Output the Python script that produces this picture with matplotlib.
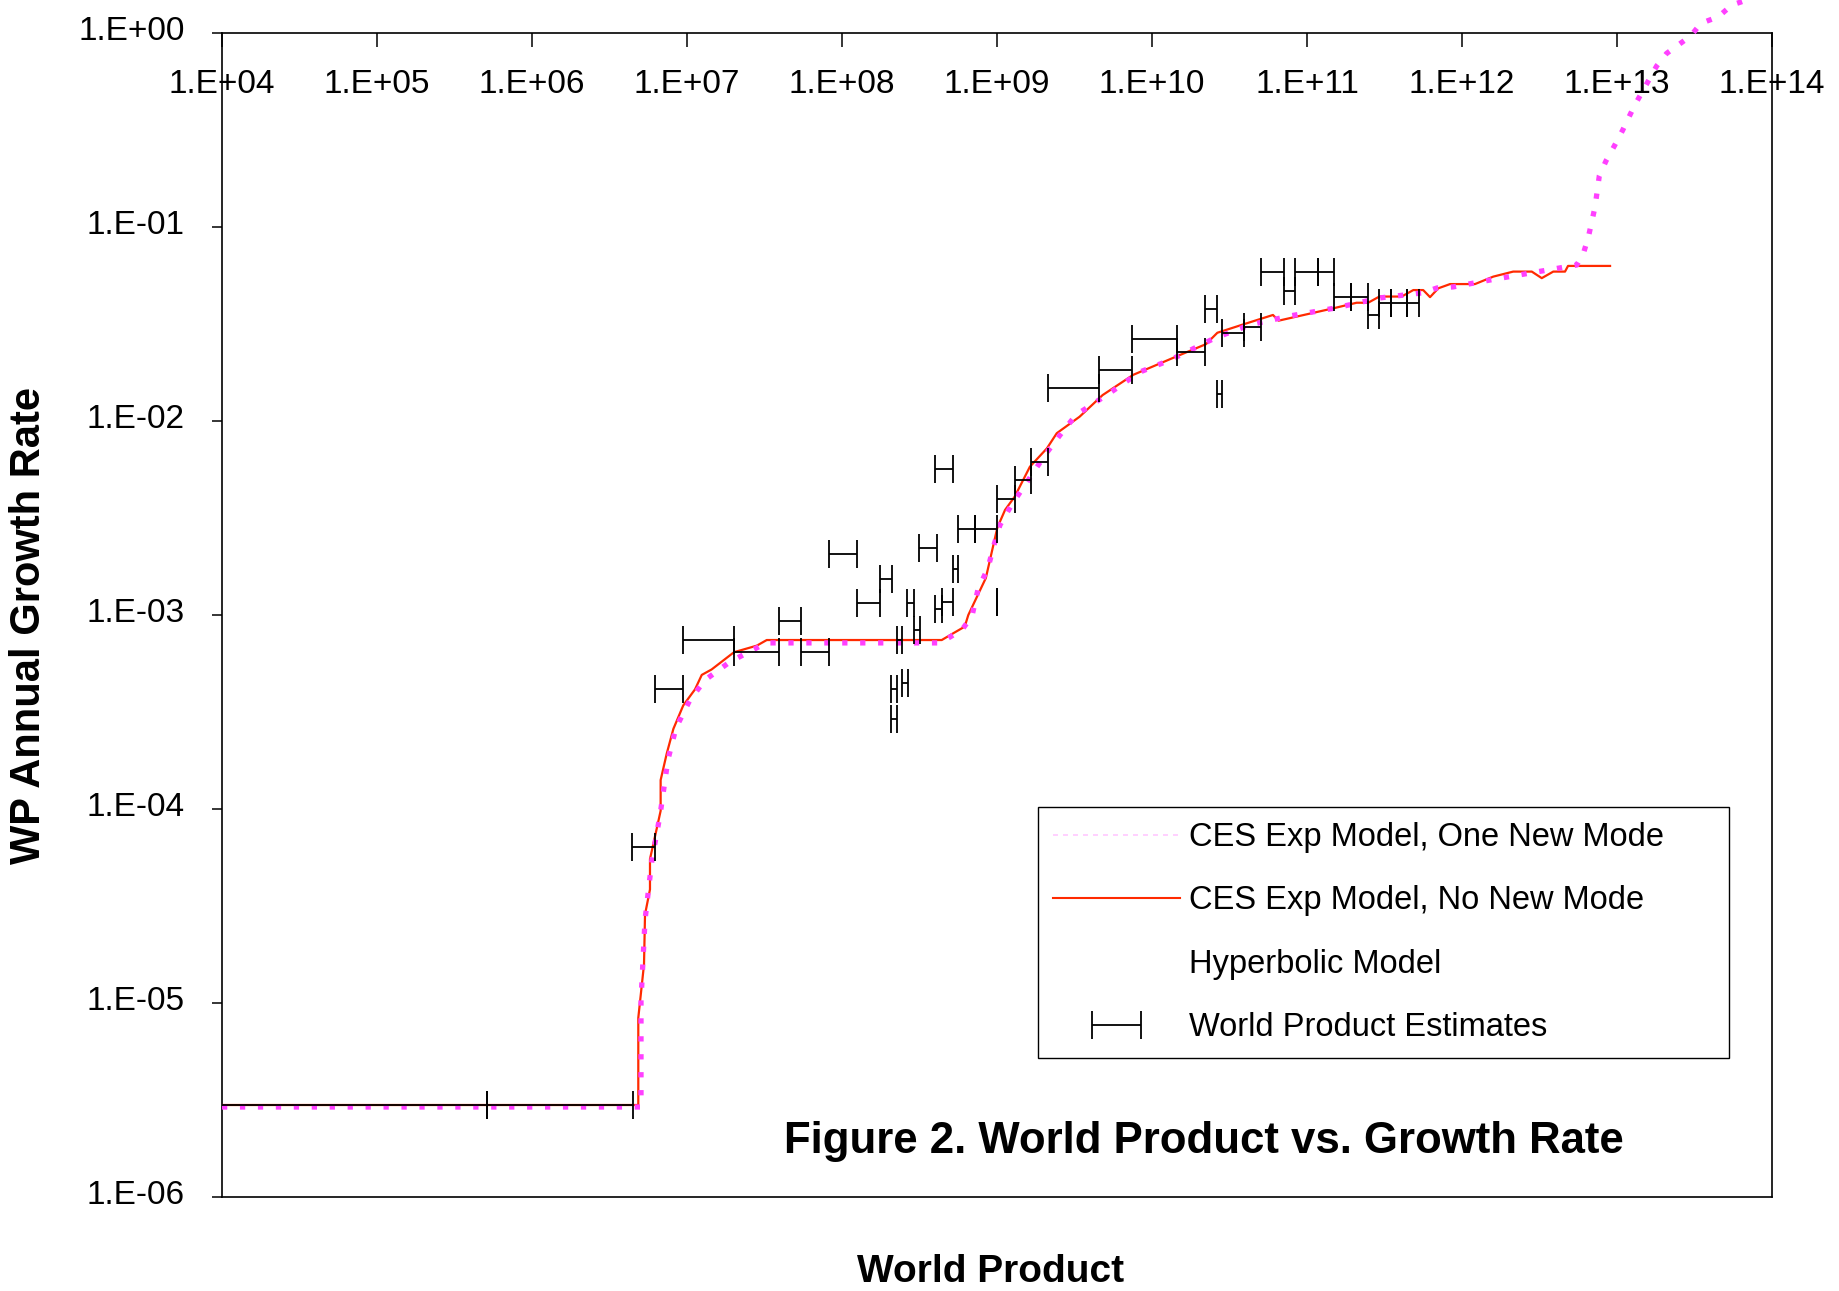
import matplotlib
matplotlib.use('Agg')
import numpy as np
import matplotlib.pyplot as plt
from matplotlib import font_manager
from matplotlib.lines import Line2D
from matplotlib.container import ErrorbarContainer
from matplotlib.legend_handler import HandlerErrorbar
from matplotlib.ticker import NullLocator
from matplotlib.transforms import ScaledTranslation

# CES Exp Model, No New Mode (red)
ces_none_x = [1.0e4, 4.85e6, 4.85e6, 5.28e6, 5.36e6, 5.77e6, 5.77e6, 6.38e6, 6.76e6, 6.76e6,
              7.40e6, 8.17e6, 9.46e6, 1.127e7, 1.245e7, 1.442e7, 2.01e7, 2.82e7, 3.27e7, 4.40e8,
              5.22e8, 6.19e8, 6.53e8, 8.47e8, 8.91e8, 1.005e9, 1.127e9, 1.30e9, 1.63e9, 2.10e9,
              2.43e9, 3.41e9, 4.80e9, 7.57e9, 1.455e10, 2.23e10, 2.64e10, 3.94e10, 6.03e10, 6.56e10,
              1.479e11, 2.09e11, 2.48e11, 2.93e11, 4.08e11, 4.85e11, 5.62e11, 6.22e11, 7.03e11, 8.38e11,
              1.213e12, 1.592e12, 2.14e12, 2.82e12, 3.27e12, 3.88e12, 4.62e12, 4.83e12, 9.02e12]
ces_none_y = [2.98e-6, 2.98e-6, 8.38e-6, 1.58e-5, 2.86e-5, 3.85e-5, 5.52e-5, 7.93e-5, 9.79e-5, 1.41e-4,
              1.93e-4, 2.59e-4, 3.42e-4, 4.14e-4, 4.91e-4, 5.24e-4, 6.43e-4, 6.95e-4, 7.43e-4, 7.43e-4,
              8.05e-4, 8.71e-4, 1.0e-3, 1.55e-3, 1.85e-3, 2.82e-3, 3.48e-3, 4.07e-3, 5.81e-3, 7.23e-3,
              8.65e-3, 1.052e-2, 1.36e-2, 1.73e-2, 2.16e-2, 2.49e-2, 2.85e-2, 3.16e-2, 3.52e-2, 3.29e-2,
              3.81e-2, 4.07e-2, 4.07e-2, 4.38e-2, 4.38e-2, 4.73e-2, 4.73e-2, 4.35e-2, 4.83e-2, 5.08e-2,
              5.08e-2, 5.55e-2, 5.89e-2, 5.89e-2, 5.45e-2, 5.89e-2, 5.89e-2, 6.30e-2, 6.30e-2]

# CES Exp Model, One New Mode (magenta)
ces_one_x = [1.0e4, 5.05e6, 5.05e6, 5.36e6, 5.94e6, 6.70e6, 7.53e6, 8.49e6, 1.045e7, 1.306e7,
             1.89e7, 3.24e7, 4.29e8, 5.94e8, 6.90e8, 7.53e8, 8.75e8, 9.57e8, 1.045e9, 1.25e9,
             1.517e9, 2.04e9, 2.55e9, 3.23e9, 5.33e9, 8.37e9, 1.306e10, 1.89e10, 2.55e10, 4.29e10,
             7.76e10, 1.517e11, 2.96e11, 5.60e11, 6.90e11, 8.75e11, 1.517e12, 2.75e12, 5.50e12, 6.07e12,
             6.53e12, 7.21e12, 7.69e12, 8.49e12, 9.62e12, 1.089e13, 1.183e13, 1.294e13, 1.517e13, 1.803e13,
             2.09e13, 2.99e13, 3.48e13, 4.51e13, 5.50e13, 6.87e13]
ces_one_y = [2.91e-6, 2.91e-6, 1.035e-5, 2.68e-5, 5.46e-5, 9.31e-5, 1.79e-4, 2.62e-4, 3.65e-4, 4.62e-4,
             5.73e-4, 7.18e-4, 7.18e-4, 8.38e-4, 9.89e-4, 1.35e-3, 1.75e-3, 2.30e-3, 2.91e-3, 3.73e-3,
             4.68e-3, 6.68e-3, 8.47e-3, 1.074e-2, 1.393e-2, 1.79e-2, 2.06e-2, 2.38e-2, 2.68e-2, 3.13e-2,
             3.48e-2, 3.82e-2, 4.31e-2, 4.58e-2, 4.85e-2, 4.91e-2, 5.33e-2, 5.79e-2, 6.37e-2, 7.31e-2,
             8.85e-2, 0.1265, 0.1837, 0.219, 0.262, 0.316, 0.363, 0.421, 0.528, 0.676,
             0.785, 0.966, 1.122, 1.213, 1.393, 1.479]

# World product estimates: low / high world product and growth rate
wp_low = [5.0e3, 5.1e5, 4.42e6, 6.22e6, 9.46e6, 2.01e7, 3.93e7, 5.43e7, 8.24e7, 1.256e8,
          1.758e8, 2.06e8, 2.06e8, 2.25e8, 2.45e8, 2.64e8, 2.92e8, 3.14e8, 3.98e8, 3.98e8,
          4.40e8, 5.18e8, 5.62e8, 7.22e8, 1.0e9, 1.0e9, 1.30e9, 1.656e9, 2.13e9, 4.54e9,
          7.47e9, 1.455e10, 2.20e10, 2.61e10, 2.83e10, 3.94e10, 5.08e10, 7.14e10, 8.38e10, 1.172e11,
          1.496e11, 1.93e11, 2.466e11, 2.93e11, 3.48e11, 4.41e11]
wp_high = [5.1e5, 4.47e6, 6.22e6, 9.46e6, 2.01e7, 3.93e7, 5.43e7, 8.24e7, 1.256e8, 1.758e8,
           2.094e8, 2.25e8, 2.25e8, 2.45e8, 2.68e8, 2.92e8, 3.19e8, 4.08e8, 5.22e8, 4.40e8,
           5.18e8, 5.62e8, 7.22e8, 1.004e9, 1.0e9, 1.30e9, 1.656e9, 2.13e9, 4.54e9, 7.47e9,
           1.455e10, 2.20e10, 2.61e10, 2.83e10, 3.94e10, 5.08e10, 7.14e10, 8.38e10, 1.172e11, 1.496e11,
           1.93e11, 2.466e11, 2.93e11, 3.48e11, 4.41e11, 5.29e11]
wp_rate = [2.98e-6, 2.98e-6, 6.37e-5, 4.16e-4, 7.46e-4, 6.42e-4, 9.28e-4, 6.42e-4, 2.07e-3, 1.15e-3,
           1.54e-3, 4.16e-4, 2.91e-4, 7.43e-4, 4.48e-4, 1.15e-3, 8.37e-4, 2.21e-3, 5.66e-3, 1.08e-3,
           1.16e-3, 1.73e-3, 2.76e-3, 2.76e-3, 1.16e-3, 3.97e-3, 4.97e-3, 6.15e-3, 1.475e-2, 1.83e-2,
           2.64e-2, 2.28e-2, 3.77e-2, 1.38e-2, 2.83e-2, 3.04e-2, 5.86e-2, 4.70e-2, 5.86e-2, 5.86e-2,
           4.37e-2, 4.37e-2, 3.52e-2, 4.08e-2, 4.08e-2, 4.08e-2]

x_ticks = [1e4, 1e5, 1e6, 1e7, 1e8, 1e9, 1e10, 1e11, 1e12, 1e13, 1e14]
x_tick_labels = ['1.E+04', '1.E+05', '1.E+06', '1.E+07', '1.E+08', '1.E+09',
                 '1.E+10', '1.E+11', '1.E+12', '1.E+13', '1.E+14']
y_ticks = [1e-6, 1e-5, 1e-4, 1e-3, 1e-2, 1e-1, 1e0]
y_tick_labels = ['1.E-06', '1.E-05', '1.E-04', '1.E-03', '1.E-02', '1.E-01', '1.E+00']

legend_labels = ['CES Exp Model, One New Mode', 'CES Exp Model, No New Mode',
                 'Hyperbolic Model', 'World Product Estimates']

# narrow font if there is one (the original text is tall and condensed)
names = {f.name for f in font_manager.fontManager.ttflist}
if 'Liberation Sans Narrow' in names:
    main_font = 'Liberation Sans Narrow'
    tick_size, leg_size, title_size, xlab_size = 29, 28.5, 38, 34
else:
    main_font = 'Liberation Sans'
    tick_size, leg_size, title_size, xlab_size = 24, 23.5, 31.5, 28
plt.rcParams['font.family'] = [main_font, 'DejaVu Sans']

fig = plt.figure(figsize=(18.39, 12.91), dpi=100)
fig.patch.set_facecolor('white')
ax = fig.add_axes([222 / 1839, 94 / 1291, 1550 / 1839, 1164 / 1291])

ax.plot(ces_none_x, ces_none_y, color='#FF2A00', lw=1.6, zorder=3)
ax.plot(ces_one_x, ces_one_y, color='#FF40FF', lw=3.8, ls=(0, (1, 2.4)),
        dash_capstyle='butt', zorder=4, clip_on=False)

low = np.array(wp_low)
high = np.array(wp_high)
eb = ax.errorbar(low, wp_rate, xerr=[np.zeros_like(low), high - low], fmt='none',
                 ecolor='black', elinewidth=1.3, capsize=10, capthick=1.3, zorder=5)

ax.set_xscale('log')
ax.set_yscale('log')
ax.set_xlim(1e4, 1e14)
ax.set_ylim(1e-6, 1e0)
ax.set_xticks(x_ticks, labels=x_tick_labels)
ax.set_yticks(y_ticks, labels=y_tick_labels)
ax.xaxis.set_minor_locator(NullLocator())
ax.yaxis.set_minor_locator(NullLocator())

ax.xaxis.set_ticks_position('top')
ax.tick_params(axis='x', which='major', direction='in', length=10, width=1.1,
               top=True, bottom=False, labeltop=True, labelbottom=False,
               pad=-48.5, labelsize=tick_size)
ax.tick_params(axis='y', which='major', direction='out', length=7, width=1.1,
               left=True, right=False, pad=20, labelsize=tick_size)
# y labels sit a little above their ticks in the original
for lab in ax.get_yticklabels():
    lab.set_transform(lab.get_transform() + ScaledTranslation(0, 3.4 / 72, fig.dpi_scale_trans))
for sp in ax.spines.values():
    sp.set_linewidth(1.2)
    sp.set_color('black')

handles = [Line2D([], [], color='#FFC8FF', lw=1.2, ls=(0, (3, 3))),
           Line2D([], [], color='#FF2A00', lw=1.5),
           Line2D([], [], color='none'),
           eb]
leg = ax.legend(handles, legend_labels, loc='upper left',
                bbox_to_anchor=(0.5265, 0.0, 0.4458, 0.335), mode='expand',
                fontsize=leg_size, frameon=True, fancybox=False, edgecolor='black',
                framealpha=1, borderpad=0.46, labelspacing=0.99, handlelength=3.9,
                handletextpad=0.25, borderaxespad=0,
                handler_map={ErrorbarContainer: HandlerErrorbar(xerr_size=0.75)})
leg.get_frame().set_linewidth(1.0)

fig.text(1204 / 1839, 1 - 1141 / 1291, 'Figure 2. World Product vs. Growth Rate',
         ha='center', va='center', fontsize=title_size, fontweight='bold')
fig.text(991 / 1839, 1 - 1272 / 1291, 'World Product',
         ha='center', va='center', fontsize=xlab_size, fontweight='bold')
fig.text(29 / 1839, 1 - 625 / 1291, 'WP Annual Growth Rate', rotation=90,
         ha='center', va='center', fontsize=30, fontweight='bold',
         family=['Liberation Sans', 'DejaVu Sans'])

fig.savefig('out.png', dpi=100, facecolor='white')
